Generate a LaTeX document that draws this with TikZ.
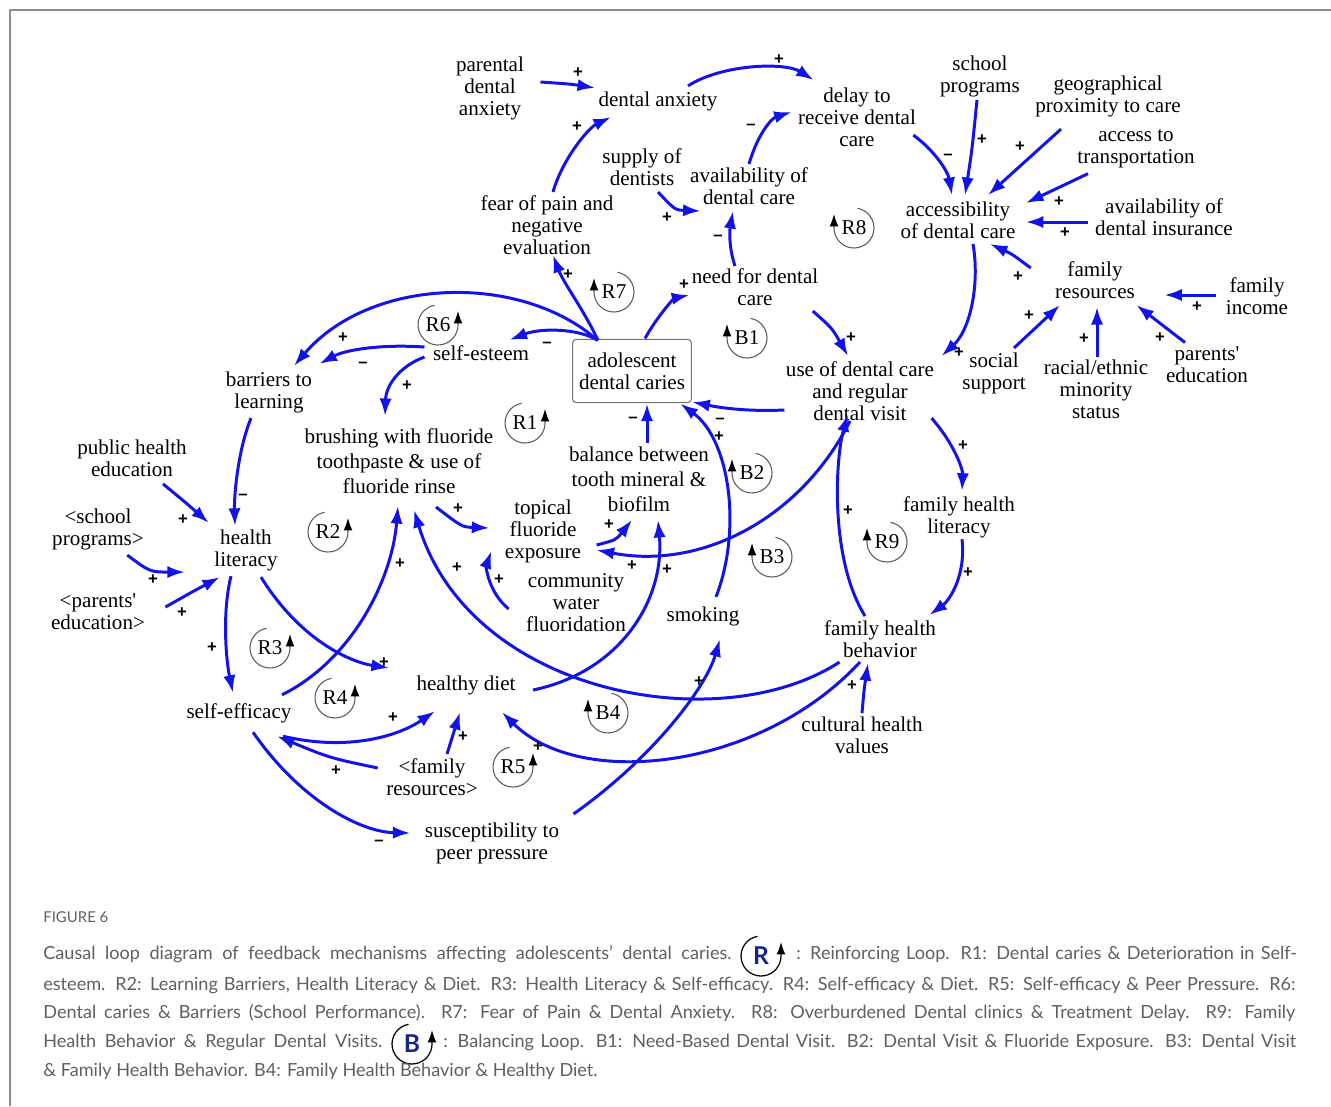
\documentclass[tikz,border=0pt]{standalone}
\usepackage{fontspec}
\setmainfont{Liberation Serif}
\newfontfamily\signfont{Liberation Sans}
\newfontfamily\capfont{Lato}
\usetikzlibrary{arrows.meta}
\definecolor{cldblue}{RGB}{18,18,235}
\definecolor{capgray}{RGB}{95,95,95}
\definecolor{loopnavy}{RGB}{25,35,140}

\newcommand\rloopmark[3]{%
  \node[loopname] (#1) at (#2) {#3};
  \draw[loopline] ([shift={(100:0.4cm)}]#1.center) arc[start angle=100,end angle=360,radius=0.4cm] -- ++(0,-14);}
\newcommand\lloopmark[3]{%
  \node[loopname] (#1) at (#2) {#3};
  \draw[loopline] ([shift={(80:0.4cm)}]#1.center) arc[start angle=80,end angle=-180,radius=0.4cm] -- ++(0,-14);}

\begin{document}
\begin{tikzpicture}[x=0.02cm,y=-0.02cm,line join=round,
  var/.style={align=center,inner sep=2pt,outer sep=0pt,font=\fontsize{12}{12.5}\selectfont},
  wide/.style={var,font=\fontsize{12}{14.2}\selectfont},
  caries/.style={var,draw=black!55,line width=0.6pt,rounded corners=2pt,minimum width=67.5pt,minimum height=36pt},
  link/.style={draw=cldblue,line width=1.7pt,-{Latex[length=10pt,width=7pt]}},
  pol/.style={font=\signfont\bfseries\fontsize{9.5}{9.5}\selectfont,inner sep=0pt},
  loopname/.style={font=\fontsize{12}{12}\selectfont,inner sep=0pt},
  loopline/.style={draw=black!65,line width=0.6pt,-{Latex[length=7pt,width=5pt,color=black]}},
  captext/.style={font=\capfont\fontsize{10.3}{11}\selectfont,text=capgray,inner sep=0pt,anchor=west}]
\useasboundingbox (0,0) rectangle (1331,1106);
\draw[black!45,line width=1pt] (10,1106) -- (10,10) -- (1331,10);

% variables
\node[var] (pda) at (490,88) {parental\\dental\\anxiety};
\node[var] (da) at (658,101) {dental anxiety};
\node[var] (delay) at (857,117) {delay to\\receive dental\\care};
\node[var] (schprog) at (980,76) {school\\programs};
\node[var] (geo) at (1108,96) {geographical\\proximity to care};
\node[var] (transp) at (1136,149) {access to\\transportation};
\node[var] (access) at (958,220) {accessibility\\of dental care};
\node[var] (insur) at (1164,217) {availability of\\dental insurance};
\node[var] (famres) at (1095,280) {family\\resources};
\node[var] (income) at (1257,296) {family\\income};
\node[var] (supply) at (642,167) {supply of\\dentists};
\node[var] (avail) at (749,186) {availability of\\dental care};
\node[var] (fear) at (547,225) {fear of pain and\\negative\\evaluation};
\node[var] (need) at (755,287) {need for dental\\care};
\node[var] (social) at (994,373) {social\\support};
\node[var] (racial) at (1096,389) {racial/ethnic\\minority\\status};
\node[var] (parented) at (1207,365) {parents\textquotesingle\\education};
\node[var] (use) at (860,391) {use of dental care\\and regular\\dental visit};
\node[caries] (caries) at (632,371) {adolescent\\dental caries};
\node[var] (esteem) at (481,353) {self-esteem};
\node[var] (barriers) at (269,392) {barriers to\\learning};
\node[wide] (brush) at (399,461) {brushing with fluoride\\toothpaste \& use of\\fluoride rinse};
\node[wide] (balance) at (639,479) {balance between\\tooth mineral \&\\biofilm};
\node[var] (phe) at (132,458) {public health\\education};
\node[var] (schprog2) at (98,529) {<school\\programs>};
\node[var] (hlit) at (246,550) {health\\literacy};
\node[var] (parented2) at (98,612) {<parents\textquotesingle\\education>};
\node[var] (topical) at (543,531) {topical\\fluoride\\exposure};
\node[var] (water) at (576,603) {community\\water\\fluoridation};
\node[var] (smoking) at (703,616) {smoking};
\node[var] (fhlit) at (959,517) {family health\\literacy};
\node[var] (fhbeh) at (880,639) {family health\\behavior};
\node[var] (diet) at (466,685) {healthy diet};
\node[var] (efficacy) at (239,713) {self-efficacy};
\node[var] (famres2) at (432,777) {<family\\resources>};
\node[var] (culture) at (862,735) {cultural health\\values};
\node[var] (peer) at (492,843) {susceptibility to\\peer pressure};

% loops
\rloopmark{R6}{438,325}{R6}
\lloopmark{R7}{614,292}{R7}
\lloopmark{R8}{854,228}{R8}
\lloopmark{B1}{747,338}{B1}
\rloopmark{R1}{525,423}{R1}
\lloopmark{B2}{752,473}{B2}
\lloopmark{B3}{772,557}{B3}
\rloopmark{R2}{328,532}{R2}
\lloopmark{R9}{887,542}{R9}
\rloopmark{R3}{270,648}{R3}
\rloopmark{R4}{335,698}{R4}
\lloopmark{B4}{608,713}{B4}
\rloopmark{R5}{513,767}{R5}

% links
\draw[link] ([shift={(13,-6)}]pda.east) .. controls (570,84) .. (da.north west);
\draw[link] ([shift={(6,0)}]fear.north) .. controls (562,160) and (588,128) .. ([shift={(16,3)}]da.south west);
\draw[link] ([shift={(30,-2)}]da.north) .. controls (722,64) and (785,62) .. ([shift={(19,-4)}]delay.north west);
\draw[link] (avail.north) .. controls (758,133) and (772,118) .. ([shift={(-3,-5)}]delay.west);
\draw[link] ([shift={(16,3)}]supply.south) .. controls (675,210) .. ([shift={(14,3)}]avail.south west);
\draw[link] ([shift={(-20,1)}]need.north) .. controls (728,245) and (730,228) .. ([shift={(-16,3)}]avail.south);
\draw[link] ([shift={(-34,1)}]caries.north) .. controls (585,312) and (563,282) .. ([shift={(6,-3)}]fear.south);
\draw[link] ([shift={(13,-1)}]caries.north) .. controls (660,312) and (675,298) .. ([shift={(1,8)}]need.west);
\draw[link] ([shift={(-9,2)}]need.south east) .. controls (832,328) .. ([shift={(-12,-2)}]use.north);
\draw[link] ([shift={(-6,18)}]delay.east) .. controls (936,152) and (948,172) .. ([shift={(-6,-3)}]access.north);
\draw[link] ([shift={(-3,0)}]schprog.south) .. controls (972,150) .. ([shift={(7,-3)}]access.north);
\draw[link] ([shift={(-47,9)}]geo.south) -- ([shift={(30,-3)}]access.north);
\draw[link] ([shift={(-48,2)}]transp.south) -- ([shift={(7,5)}]access.north east);
\draw[link] ([shift={(-4,5)}]insur.west) -- ([shift={(7,2)}]access.east);
\draw[link] ([shift={(-21,-12)}]famres.west) .. controls (1012,254) .. ([shift={(-29,2)}]access.south east);
\draw[link] ([shift={(-6,-1)}]income.west) -- ([shift={(26,15)}]famres.east);
\draw[link] ([shift={(20,-1)}]social.north) -- ([shift={(-35,3)}]famres.south);
\draw[link] ([shift={(1,1)}]racial.north) -- ([shift={(2,5)}]famres.south);
\draw[link] ([shift={(-22,-1)}]parented.north) -- ([shift={(-2,3)}]famres.south east);
\draw[link] ([shift={(15,2)}]access.south) .. controls (980,285) and (970,330) .. ([shift={(4,-2)}]use.north east);
\draw[link] ([shift={(2,19)}]use.west) .. controls (740,412) and (712,406) .. ([shift={(1,31)}]caries.east);
\draw[link] ([shift={(8,0)}]balance.north) -- ([shift={(15,1)}]caries.south);
\draw[link] ([shift={(13,-6)}]smoking.north) .. controls (742,530) and (730,440) .. ([shift={(-11,1)}]caries.south east);
\draw[link] ([shift={(25,1)}]caries.north west) .. controls (578,328) and (540,328) .. ([shift={(-23,-2)}]esteem.north east);
\draw[link] ([shift={(25,1)}]caries.north west) .. controls (520,272) and (370,277) .. ([shift={(25,-2)}]barriers.north);
\draw[link] ([shift={(-5,-6)}]esteem.west) .. controls (380,344) and (345,350) .. ([shift={(4,-4)}]barriers.north east);
\draw[link] ([shift={(-5,4)}]esteem.west) .. controls (400,366) and (386,385) .. ([shift={(-14,-9)}]brush.north);
\draw[link] ([shift={(-18,2)}]barriers.south) .. controls (238,450) and (234,495) .. ([shift={(-11,0)}]hlit.north);
\draw[link] ([shift={(31,4)}]phe.south) .. controls (185,502) .. ([shift={(-2,-3)}]hlit.north west);
\draw[link] ([shift={(-20,2)}]schprog2.south east) .. controls (150,572) .. ([shift={(-26,-2)}]hlit.south west);
\draw[link] ([shift={(17,-5)}]parented2.east) .. controls (192,592) .. ([shift={(9,3)}]hlit.south west);
\draw[link] ([shift={(-15,2)}]hlit.south) .. controls (222,612) and (226,660) .. ([shift={(-6,-7)}]efficacy.north);
\draw[link] ([shift={(15,3)}]hlit.south) .. controls (300,640) and (350,662) .. ([shift={(-24,-17)}]diet.west);
\draw[link] ([shift={(-13,-5)}]efficacy.north east) .. controls (352,660) and (392,580) .. ([shift={(-1,9)}]brush.south);
\draw[link] ([shift={(37,10)}]brush.south) .. controls (462,527) .. ([shift={(-12,-3)}]topical.west);
\draw[link] ([shift={(-14,6)}]water.west) .. controls (488,592) and (486,566) .. ([shift={(-10,-15)}]topical.south west);
\draw[link] ([shift={(12,14)}]topical.east) .. controls (616,540) .. ([shift={(-7,5)}]balance.south);
\draw[link] ([shift={(14,5)}]diet.east) .. controls (620,672) and (665,600) .. ([shift={(19,5)}]balance.south);
\draw[link] ([shift={(19,1)}]fhbeh.south west) .. controls (720,740) and (470,695) .. ([shift={(15,13)}]brush.south);
\draw[link] ([shift={(-20,1)}]fhbeh.south) .. controls (760,770) and (580,790) .. ([shift={(-17,14)}]diet.south east);
\draw[link] (culture.north) .. controls (864,690) .. ([shift={(-12,2)}]fhbeh.south);
\draw[link] ([shift={(11,-5)}]peer.north east) .. controls (650,760) and (705,690) .. ([shift={(17,10)}]smoking.south);
\draw[link] ([shift={(14,6)}]efficacy.south) .. controls (300,800) and (360,832) .. ([shift={(-11,-10)}]peer.west);
\draw[link] ([shift={(-5,-9)}]famres2.west) .. controls (330,758) .. ([shift={(-18,10)}]efficacy.south east);
\draw[link] ([shift={(-12,10)}]efficacy.south east) .. controls (350,752) and (400,735) .. ([shift={(22,13)}]diet.south west);
\draw[link] ([shift={(15,-1)}]famres2.north) -- ([shift={(-6,14)}]diet.south);
\draw[link] ([shift={(-10,-3)}]use.south) .. controls (800,520) and (700,570) .. ([shift={(12,19)}]topical.east);
\draw[link] ([shift={(-15,-1)}]fhbeh.north) .. controls (830,560) and (835,460) .. ([shift={(-12,-10)}]use.south);
\draw[link] ([shift={(-6,-6)}]use.south east) .. controls (955,445) and (963,470) .. ([shift={(3,-2)}]fhlit.north);
\draw[link] ([shift={(3,-2)}]fhlit.south) .. controls (966,575) and (950,600) .. ([shift={(-10,-2)}]fhbeh.north east);

% polarities
\node[pol] (s1) at (578,73) {+};
\node[pol] (s2) at (577,127) {+};
\node[pol] (s3) at (779,60) {+};
\node[pol] (s4) at (751,127) {–};
\node[pol] (s5) at (667,218) {+};
\node[pol] (s6) at (718,238) {–};
\node[pol] (s7) at (568,275) {+};
\node[pol] (s8) at (684,285) {+};
\node[pol] (s9) at (851,338) {+};
\node[pol] (s10) at (948,157) {–};
\node[pol] (s11) at (982,140) {+};
\node[pol] (s12) at (1020,147) {+};
\node[pol] (s13) at (1059,202) {+};
\node[pol] (s14) at (1065,233) {+};
\node[pol] (s15) at (1018,277) {+};
\node[pol] (s16) at (1197,307) {+};
\node[pol] (s17) at (1029,316) {+};
\node[pol] (s18) at (1084,339) {+};
\node[pol] (s19) at (1160,338) {+};
\node[pol] (s20) at (959,353) {+};
\node[pol] (s21) at (720,421) {–};
\node[pol] (s22) at (633,420) {–};
\node[pol] (s23) at (719,437) {+};
\node[pol] (s24) at (547,345) {–};
\node[pol] (s25) at (343,338) {+};
\node[pol] (s26) at (363,365) {–};
\node[pol] (s27) at (407,386) {+};
\node[pol] (s28) at (243,497) {–};
\node[pol] (s29) at (183,520) {+};
\node[pol] (s30) at (153,580) {+};
\node[pol] (s31) at (182,613) {+};
\node[pol] (s32) at (212,648) {+};
\node[pol] (s33) at (384,663) {+};
\node[pol] (s34) at (400,564) {+};
\node[pol] (s35) at (458,509) {+};
\node[pol] (s36) at (499,580) {+};
\node[pol] (s37) at (609,525) {+};
\node[pol] (s38) at (667,570) {+};
\node[pol] (s39) at (457,568) {+};
\node[pol] (s40) at (538,747) {+};
\node[pol] (s41) at (852,686) {+};
\node[pol] (s42) at (699,682) {+};
\node[pol] (s43) at (379,843) {–};
\node[pol] (s44) at (336,771) {+};
\node[pol] (s45) at (393,718) {+};
\node[pol] (s46) at (463,737) {+};
\node[pol] (s47) at (632,566) {+};
\node[pol] (s48) at (848,511) {+};
\node[pol] (s49) at (963,446) {+};
\node[pol] (s50) at (968,573) {+};

% caption
\node[captext,font=\capfont\fontsize{8.5}{8.5}\selectfont] (fignum) at (43,917) {FIGURE 6};
\node[captext] (cap1a) at (43,954) {\makebox[391.7pt][s]{Causal loop diagram of feedback mechanisms affecting adolescents’ dental caries.}};
\node[font=\capfont\bfseries\fontsize{14}{14}\selectfont,text=loopnavy,inner sep=0pt] (iconR) at (761,956) {R};
\draw[loopline,draw=black,line width=0.7pt] ([shift={(100:0.4cm)}]iconR.center) arc[start angle=100,end angle=360,radius=0.4cm] -- ++(0,-14);
\node[captext] (cap1b) at (796,954) {\makebox[285pt][s]{: Reinforcing Loop. R1: Dental caries \& Deterioration in Self-}};
\node[captext] (cap2) at (43,985) {\makebox[712.5pt][s]{esteem. R2: Learning Barriers, Health Literacy \& Diet. R3: Health Literacy \& Self-efficacy. R4: Self-efficacy \& Diet. R5: Self-efficacy \& Peer Pressure. R6:}};
\node[captext] (cap3) at (43,1013) {\makebox[712.5pt][s]{Dental caries \& Barriers (School Performance). R7: Fear of Pain \& Dental Anxiety. R8: Overburdened Dental clinics \& Treatment Delay. R9: Family}};
\node[captext] (cap4a) at (43,1042) {\makebox[193pt][s]{Health Behavior \& Regular Dental Visits.}};
\node[font=\capfont\bfseries\fontsize{14}{14}\selectfont,text=loopnavy,inner sep=0pt] (iconB) at (412,1044) {B};
\draw[loopline,draw=black,line width=0.7pt] ([shift={(100:0.4cm)}]iconB.center) arc[start angle=100,end angle=360,radius=0.4cm] -- ++(0,-14);
\node[captext] (cap4b) at (443,1042) {\makebox[485.4pt][s]{: Balancing Loop. B1: Need-Based Dental Visit. B2: Dental Visit \& Fluoride Exposure. B3: Dental Visit}};
\node[captext] (cap5) at (43,1071) {\& Family Health Behavior. B4: Family Health Behavior \& Healthy Diet.};
\end{tikzpicture}
\end{document}
